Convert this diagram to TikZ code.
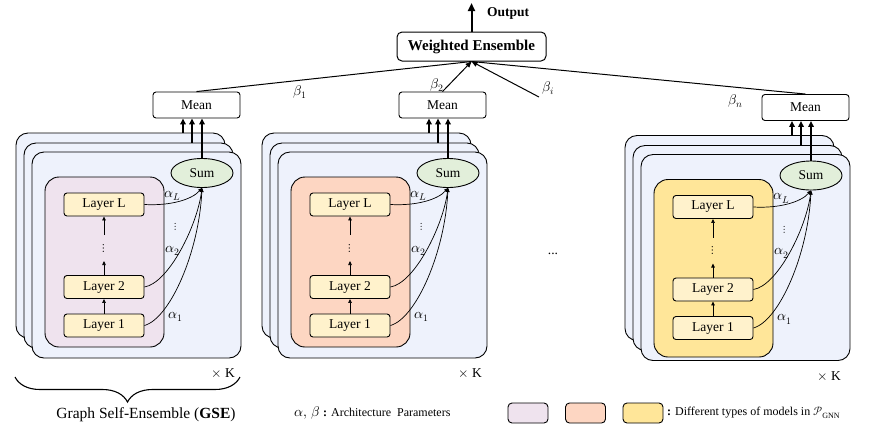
\documentclass[tikz,border=0pt]{standalone}
\usepackage{fontspec}
\usepackage{unicode-math}
\setmainfont{Liberation Serif}
\setmathfont{Latin Modern Math}
\usetikzlibrary{arrows.meta,decorations.pathreplacing,calc,shapes.geometric}
\definecolor{stackblue}{HTML}{EEF2FC}
\definecolor{purp}{HTML}{EFE3EE}
\definecolor{orng}{HTML}{FDD6C2}
\definecolor{yell}{HTML}{FFE699}
\definecolor{layerc}{HTML}{FFF2CC}
\definecolor{sumg}{HTML}{E2EFDA}
\begin{document}
\begin{tikzpicture}[x=1pt,y=-1pt,
  txt/.style={font=\fontsize{13.5}{16}\selectfont},
  stackbox/.style={draw, line width=0.9pt, fill=stackblue, rounded corners=12pt, minimum width=209pt, inner sep=0pt},
  innerbox/.style={draw, line width=0.9pt, rounded corners=14pt, minimum width=119pt, inner sep=0pt},
  layerbox/.style={draw, line width=0.9pt, fill=layerc, rounded corners=3pt, minimum width=80pt, minimum height=23pt, inner sep=0pt, txt},
  sumnode/.style={draw, line width=0.9pt, fill=sumg, ellipse, minimum width=62pt, minimum height=29pt, inner sep=0pt, txt},
  meanbox/.style={draw, line width=0.9pt, fill=white, rounded corners=3pt, minimum width=87pt, minimum height=26pt, inner sep=0pt, txt},
  legbox/.style={draw, line width=0.9pt, rounded corners=4pt, minimum width=40pt, minimum height=20pt, inner sep=0pt},
  sarr/.style={line width=0.7pt, -{Triangle[length=4pt,width=3.5pt]}},
  carr/.style={line width=0.7pt, -{Triangle[length=4pt,width=3.5pt]}},
  thk/.style={line width=1.7pt, -{Triangle[length=6pt,width=5.5pt]}},
  tl/.style={line width=1pt},
  tla/.style={line width=1pt, -{Triangle[length=6pt,width=5pt]}},
  lab/.style={font=\fontsize{14}{16}\selectfont, inner sep=0pt}
]
\useasboundingbox (0,0) rectangle (869,440);

\foreach \g/\dx/\dy/\col/\ib in {1/0/0/purp/347, 2/246/0/orng/347, 3/609/2.5/yell/354.5}{
\begin{scope}[shift={(\dx,\dy)}]
  \pgfmathsetmacro\ic{(177+\ib)/2}
  \pgfmathsetmacro\ih{\ib-177}
  \node[stackbox, minimum height=205pt] (bk\g) at (120.5,235.5) {};
  \node[stackbox, minimum height=205pt] (md\g) at (128.5,245.5) {};
  \node[stackbox, minimum height=206pt] (fr\g) at (136.5,255) {};
  \node[innerbox, fill=\col, minimum height=\ih pt] (in\g) at (104.5,\ic) {};
  \node[layerbox] (LL\g) at (104,204.5) {Layer L};
  \node[layerbox] (LB\g) at (104,287) {Layer 2};
  \node[layerbox] (LA\g) at (104,325.5) {Layer 1};
  \node[sumnode] (S\g) at (202,173) {Sum};
  \node[meanbox] (M\g) at (196.5,105) {Mean};
  % chain
  \draw[sarr] (LA\g.north) -- (LB\g.south);
  \coordinate (t\g) at (104,261);
  \draw[sarr] (LB\g.north) -- (t\g);
  \node[font=\fontsize{12}{13}\selectfont\bfseries, inner sep=0pt] (vd\g) at (104,248) {$\vdots$};
  \coordinate (c\g) at (104,235);
  \draw[sarr] (c\g) -- (LL\g.south);
  % curves to Sum
  \draw[carr] (LL\g.east) .. controls +(26,1.5) and +(-10,11.5) .. (S\g.south);
  \draw[carr] (LB\g.east) .. controls +(24,-4) and +(-5,38.5) .. (S\g.south);
  \draw[carr] (LA\g.east) .. controls +(26,-7.5) and +(-3,63.5) .. (S\g.south);
  \node[lab] at (173,196) {$\alpha_L$};
  \node[font=\fontsize{10.5}{11}\selectfont, inner sep=0pt] at (176,227) {$\vdots$};
  \node[lab] at (173,251) {$\alpha_2$};
  \node[lab] at (176,317) {$\alpha_1$};
  % arrows to Mean
  \coordinate (ax\g) at (183,0);
  \coordinate (bx\g) at (192,0);
  \draw[thk] (bk\g.north -| ax\g) -- (M\g.south -| ax\g);
  \draw[thk] (md\g.north -| bx\g) -- (M\g.south -| bx\g);
  \draw[thk] (S\g.north) -- (S\g.north |- M\g.south);
\end{scope}}

% Weighted ensemble
\node[draw, line width=1pt, rounded corners=5pt, minimum width=149pt, minimum height=29pt, inner sep=0pt,
      font=\fontsize{15}{18}\selectfont\bfseries] (WE) at (471.5,46.5) {Weighted Ensemble};
\coordinate (out) at (471.5,3);
\draw[line width=2pt, -{Triangle[length=8pt,width=7pt]}] (WE.north) -- (out);
\node[font=\fontsize{13.5}{16}\selectfont\bfseries, anchor=west, inner sep=0pt] (outl) at (487,13) {Output};

\draw[tl] (M1.north) -- (WE.south);
\draw[tla] (M2.north) -- (WE.south);
\coordinate (bi) at (539,97);
\draw[tla] (bi) -- (WE.south);
\draw[tl] (M3.north) -- (WE.south);

\node[lab] at (300,92) {$\beta_1$};
\node[lab] at (437,85) {$\beta_2$};
\node[lab] at (548,88) {$\beta_i$};
\node[lab] at (736,101) {$\beta_n$};

\node[txt, inner sep=0pt] at (553,254) {...};

\node[txt, inner sep=0pt] at (223,373) {$\times$ K};
\node[txt, inner sep=0pt] at (470,373) {$\times$ K};
\node[txt, inner sep=0pt] at (829,376) {$\times$ K};

% brace
\coordinate (brl) at (15,377);
\coordinate (brr) at (240,377);
\draw[line width=1.1pt, decorate, decoration={brace, amplitude=25pt, mirror}] (brl) -- (brr);
\node[font=\fontsize{15.5}{18}\selectfont, inner sep=0pt] (gse) at (146,415) {Graph Self-Ensemble (\textbf{GSE})};

% legend
\node[anchor=west, inner sep=0pt, font=\fontsize{12}{14}\selectfont] (leg1) at (294,413)
  {{\fontsize{14}{16}\selectfont$\alpha,\,\beta$} \textbf{:} Architecture\ \ Parameters};
\node[legbox, fill=purp] (lg1) at (528,413) {};
\node[legbox, fill=orng] (lg2) at (585.5,413) {};
\node[legbox, fill=yell] (lg3) at (643,413) {};
\node[anchor=west, inner sep=0pt, font=\fontsize{12}{14}\selectfont] (leg2) at (667,413)
  {\textbf{:} Different types of models in $\mathcal{P}_{\mathrm{GNN}}$};
\end{tikzpicture}
\end{document}
